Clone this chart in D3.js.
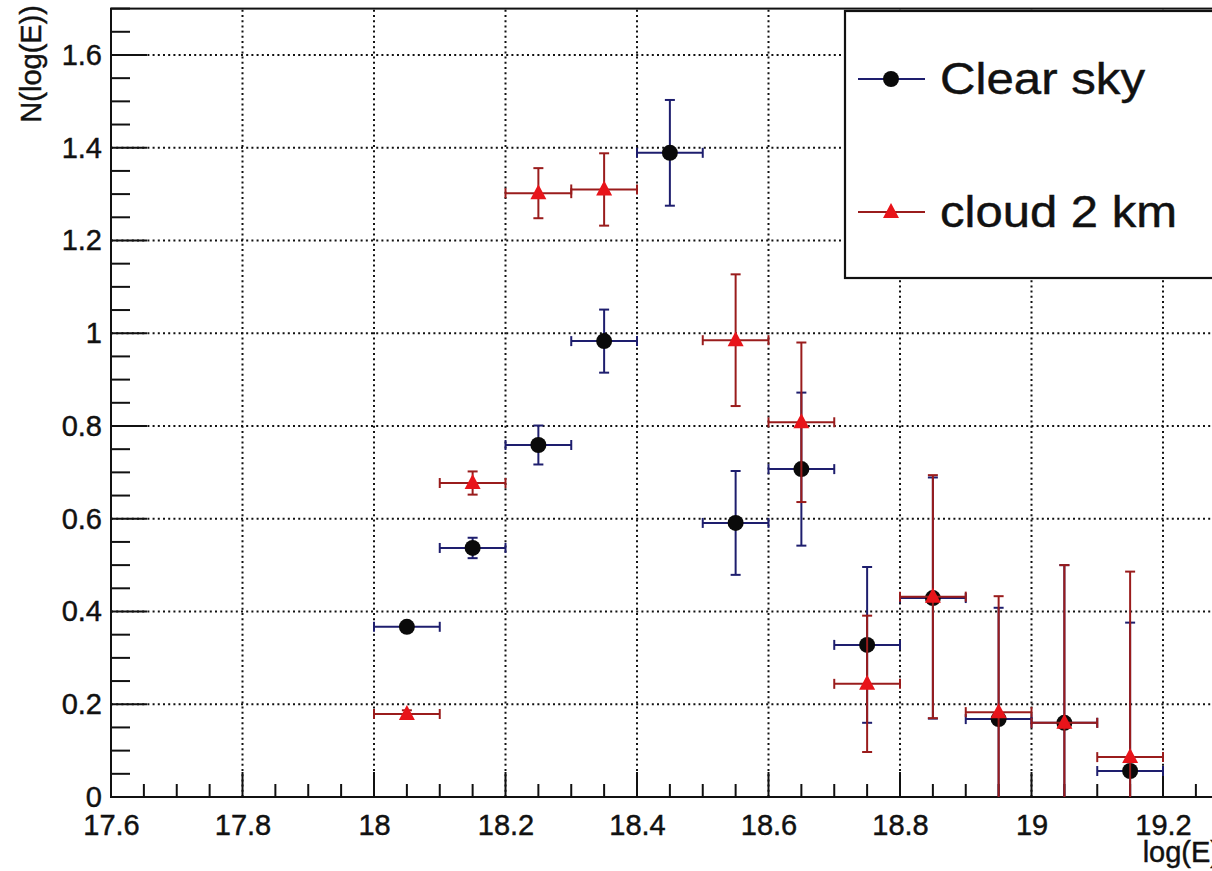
<!DOCTYPE html>
<html>
<head>
<meta charset="utf-8">
<script src="https://cdn.jsdelivr.net/npm/d3@7"></script>
<style>
  html, body { margin: 0; padding: 0; background: #fff; }
  svg { display: block; font-family: "Liberation Sans", Arial, Helvetica, sans-serif; }
  svg text { stroke: #111; stroke-width: 0.45px; }
</style>
</head>
<body>
<svg id="chart" width="1212" height="871"></svg>
<script>
// Bin centres in log10(E); every bin is 0.1 wide.
const binCenters = [18.05, 18.15, 18.25, 18.35, 18.45, 18.55, 18.65, 18.75, 18.85, 18.95, 19.05, 19.15];
const binHalfWidth = 0.05;

// Clear sky: N(log(E)) and its uncertainty per bin
const clearSkyValues = [0.367, 0.537, 0.759, 0.983, 1.389, 0.591, 0.707, 0.328, 0.429, 0.168, 0.160, 0.056];
const clearSkyErrors = [0.008, 0.022, 0.042, 0.068, 0.114, 0.112, 0.165, 0.168, 0.260, 0.240, 0.340, 0.320];

// Cloud at 2 km (no entry in the 18.45 bin)
const cloudValues = [0.179, 0.677, 1.302, 1.310, null, 0.985, 0.808, 0.244, 0.432, 0.183, 0.160, 0.086];
const cloudErrors = [0.008, 0.025, 0.054, 0.078, null, 0.142, 0.172, 0.147, 0.262, 0.250, 0.340, 0.400];

const xTickValues = [17.6, 17.8, 18.0, 18.2, 18.4, 18.6, 18.8, 19.0, 19.2];
const yTickValues = [0, 0.2, 0.4, 0.6, 0.8, 1.0, 1.2, 1.4, 1.6];
const seriesNames = ["Clear sky", "cloud 2 km"];

const svg = d3.select("#chart");

const x = d3.scaleLinear().domain([17.6, 19.3]).range([111, 1228.75]);
const y = d3.scaleLinear().domain([0, 1.7]).range([797, 8.6]);

const fmt = v => d3.format("~g")(+v.toFixed(2));

// Dotted grid at major ticks
const grid = svg.append("g").attr("stroke", "#111").attr("stroke-width", 2)
  .attr("stroke-dasharray", "2,3.2");
grid.selectAll("line.gx").data(xTickValues.filter(v => v > 17.6)).join("line")
  .attr("x1", d => x(d)).attr("x2", d => x(d)).attr("y1", y(0)).attr("y2", y(1.7));
grid.selectAll("line.gy").data(yTickValues.filter(v => v > 0)).join("line")
  .attr("x1", x(17.6)).attr("x2", x(19.3)).attr("y1", d => y(d)).attr("y2", d => y(d));

// Axes: ticks point into the frame, ROOT style
const xMinor = d3.range(0, 35).map(i => 17.6 + i * 0.05).filter(v => Math.abs((v - 17.6) / 0.2 - Math.round((v - 17.6) / 0.2)) > 1e-6);
const yMinor = d3.range(0, 35).map(i => i * 0.05).filter(v => Math.abs(v / 0.2 - Math.round(v / 0.2)) > 1e-6);

const xAxis = svg.append("g").attr("transform", `translate(0,${y(0)})`)
  .call(d3.axisBottom(x).tickValues(xTickValues).tickSize(0).tickPadding(17).tickFormat(fmt));
xAxis.select(".domain").remove();
xAxis.selectAll("text").attr("font-size", 29).attr("fill", "#111").attr("font-family", null);

const yAxis = svg.append("g").attr("transform", `translate(${x(17.6)},0)`)
  .call(d3.axisLeft(y).tickValues(yTickValues).tickSize(0).tickPadding(9).tickFormat(fmt));
yAxis.select(".domain").remove();
yAxis.selectAll("text").attr("font-size", 29).attr("fill", "#111").attr("font-family", null);

const ticks = svg.append("g").attr("stroke", "#111").attr("stroke-width", 2);
ticks.selectAll("line.xM").data(xTickValues).join("line")
  .attr("x1", d => x(d)).attr("x2", d => x(d)).attr("y1", y(0)).attr("y2", y(0) - 25);
ticks.selectAll("line.xm").data(xMinor).join("line")
  .attr("x1", d => x(d)).attr("x2", d => x(d)).attr("y1", y(0)).attr("y2", y(0) - 13);
ticks.selectAll("line.yM").data(yTickValues).join("line")
  .attr("x1", x(17.6)).attr("x2", x(17.6) + 36).attr("y1", d => y(d)).attr("y2", d => y(d));
ticks.selectAll("line.ym").data(yMinor).join("line")
  .attr("x1", x(17.6)).attr("x2", x(17.6) + 19).attr("y1", d => y(d)).attr("y2", d => y(d));

// Frame
svg.append("rect")
  .attr("x", x(17.6)).attr("y", y(1.7))
  .attr("width", x(19.3) - x(17.6)).attr("height", y(0) - y(1.7))
  .attr("fill", "none").attr("stroke", "#111").attr("stroke-width", 2);

// Axis titles
svg.append("text").attr("transform", `translate(41,5) rotate(-90)`)
  .attr("text-anchor", "end").attr("font-size", 29).attr("fill", "#111").text("N(log(E))");
svg.append("text").attr("x", 1220).attr("y", 862)
  .attr("text-anchor", "end").attr("font-size", 29).attr("fill", "#111").text("log(E)");

// Data series with error bars
function rows(values, errors) {
  return binCenters.map((c, i) => ({ c, v: values[i], e: errors[i] })).filter(d => d.v !== null);
}
const capLen = 5;
function drawSeries(data, lineColor, markerFn) {
  const g = svg.append("g");
  const bars = g.append("g").attr("stroke", lineColor).attr("stroke-width", 2).attr("fill", "none");
  data.forEach(d => {
    const cx = x(d.c), cy = y(d.v);
    const yHi = y(d.v + d.e), yLo = y(Math.max(0, d.v - d.e));
    const xL = x(d.c - binHalfWidth), xR = x(d.c + binHalfWidth);
    bars.append("line").attr("x1", xL).attr("x2", xR).attr("y1", cy).attr("y2", cy);
    bars.append("line").attr("x1", xL).attr("x2", xL).attr("y1", cy - capLen).attr("y2", cy + capLen);
    bars.append("line").attr("x1", xR).attr("x2", xR).attr("y1", cy - capLen).attr("y2", cy + capLen);
    bars.append("line").attr("x1", cx).attr("x2", cx).attr("y1", yHi).attr("y2", yLo);
    bars.append("line").attr("x1", cx - capLen).attr("x2", cx + capLen).attr("y1", yHi).attr("y2", yHi);
    if (d.v - d.e > 0) {
      bars.append("line").attr("x1", cx - capLen).attr("x2", cx + capLen).attr("y1", yLo).attr("y2", yLo);
    }
  });
  data.forEach(d => markerFn(g, x(d.c), y(d.v)));
}
const circleMarker = (g, cx, cy) => g.append("circle").attr("cx", cx).attr("cy", cy).attr("r", 8).attr("fill", "#0a0a0a");
const triangleMarker = (g, cx, cy) => g.append("path")
  .attr("d", `M${cx},${cy - 9} L${cx + 8},${cy + 6} L${cx - 8},${cy + 6} Z`).attr("fill", "#e8141a");

drawSeries(rows(clearSkyValues, clearSkyErrors), "#1e1e6e", circleMarker);
drawSeries(rows(cloudValues, cloudErrors), "#9a1c1c", triangleMarker);

// Legend
const legend = svg.append("g");
legend.append("rect").attr("x", 845).attr("y", 11).attr("width", 380).attr("height", 267)
  .attr("fill", "#fff").attr("stroke", "#111").attr("stroke-width", 2.2);
const legendItems = [
  { name: seriesNames[0], cy: 79, color: "#1e1e6e", marker: circleMarker, width: 205 },
  { name: seriesNames[1], cy: 212, color: "#9a1c1c", marker: triangleMarker, width: 237 }
];
legendItems.forEach(it => {
  legend.append("line").attr("x1", 858).attr("x2", 925).attr("y1", it.cy).attr("y2", it.cy)
    .attr("stroke", it.color).attr("stroke-width", 2);
  it.marker(legend, 891, it.cy);
  legend.append("text").attr("x", 940).attr("y", it.cy + 15).attr("font-size", 45)
    .attr("fill", "#111").attr("textLength", it.width).attr("lengthAdjust", "spacingAndGlyphs")
    .text(it.name);
});
</script>
</body>
</html>
